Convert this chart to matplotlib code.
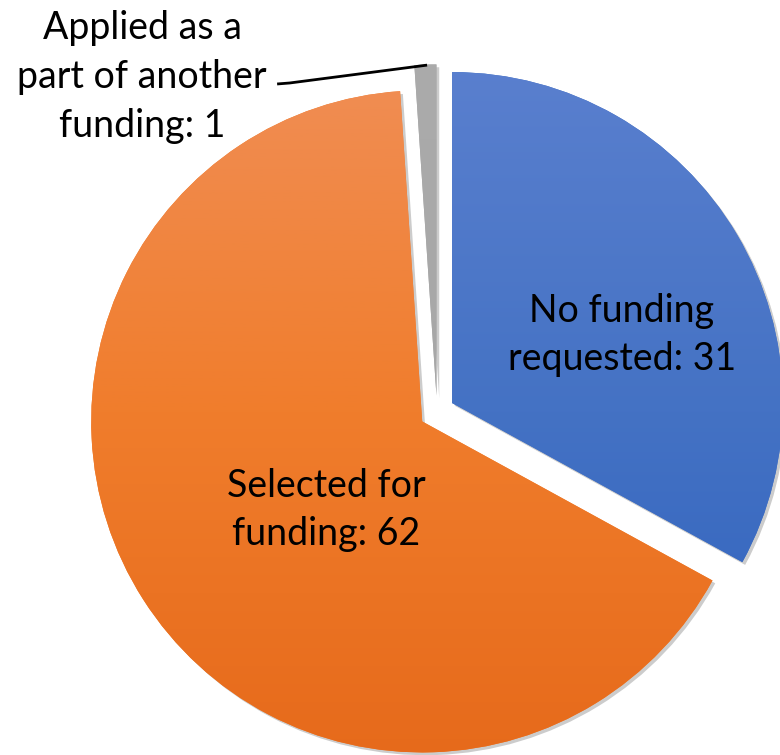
import numpy as np
import matplotlib
matplotlib.use("Agg")
import matplotlib.pyplot as plt
import matplotlib.patheffects as pe
from matplotlib.colors import LinearSegmentedColormap

categories = ["No funding\nrequested", "Selected for\nfunding", "Applied as a\npart of another\nfunding"]
values = [31, 62, 1]
explode = [0.053, 0.053, 0.05]
top_colors = ["#5B80CF", "#F08F57", "#ABABAB"]
mid_colors = ["#4472C4", "#F07D2C", "#A7A7A7"]
bottom_colors = ["#2D60BD", "#E6691A", "#A3A3A3"]

plt.rcParams['font.family'] = ['Lato', 'DejaVu Sans']

fig = plt.figure(figsize=(7.8, 7.55), dpi=100)
ax = fig.add_axes([0, 0, 1, 1])
R = 331.0
cx, cy = 437.0, 412.0

wedges, _ = ax.pie(values, startangle=90, counterclock=False, explode=explode,
                   radius=1.0, center=(0, 0), frame=True)
ax.set_xlim(-cx / R, (780 - cx) / R)
ax.set_ylim(-(755 - cy) / R, cy / R)
ax.set_aspect('equal')
ax.axis('off')

for w, tc, mc, bc in zip(wedges, top_colors, mid_colors, bottom_colors):
    w.set_facecolor(mc)
    w.set_edgecolor('none')
    w.set_path_effects([pe.SimplePatchShadow(offset=(2, -2), shadow_rgbFace='#808080', alpha=0.4), pe.Normal()])
    cmap = LinearSegmentedColormap.from_list('g', [bc, mc, tc])
    grad = np.linspace(0, 1, 256).reshape(-1, 1)
    im = ax.imshow(grad, cmap=cmap, origin='lower', aspect='auto',
                   extent=(-1.1, 1.1, -1.1, 1.1), zorder=w.get_zorder() + 0.1)
    im.set_clip_path(w)

ax.set_xlim(-cx / R, (780 - cx) / R)
ax.set_ylim(-(755 - cy) / R, cy / R)

fs = 27
ls = 1.42
ax.text(0.559, 0.233, f"{categories[0]}: {values[0]}", ha='center', va='center',
        fontsize=fs, linespacing=ls, zorder=10)
ax.text(-0.334, -0.296, f"{categories[1]}: {values[1]}", ha='center', va='center',
        fontsize=fs, linespacing=ls, zorder=10)
ax.text(-0.891, 1.012, f"{categories[2]}: {values[2]}", ha='center', va='center',
        fontsize=fs, linespacing=1.45, zorder=10)
ax.plot([-0.483, -0.445, -0.030], [0.991, 0.994, 1.048], color='black', lw=2, zorder=10,
        solid_capstyle='butt')

fig.savefig("out.png", dpi=100)
